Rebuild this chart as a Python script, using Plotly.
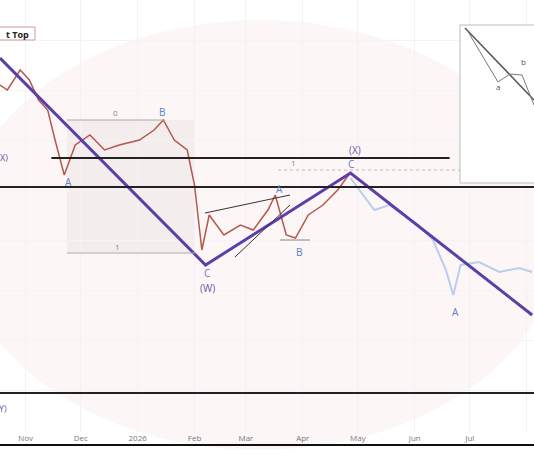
import plotly.graph_objects as go

W, H, MB = 534, 462, 30
PH = H - MB

hist_dates = ["2025-10-18","2025-10-22","2025-10-29","2025-11-03","2025-11-08","2025-11-13","2025-11-17","2025-11-22",
              "2025-11-28","2025-12-06","2025-12-14","2025-12-22","2026-01-02","2026-01-10","2026-01-15","2026-01-21",
              "2026-01-28","2026-02-01","2026-02-05","2026-02-09","2026-02-17","2026-02-26","2026-03-05","2026-03-13",
              "2026-03-17","2026-03-23","2026-03-28","2026-04-04","2026-04-12","2026-04-20","2026-04-26"]
hist_price = [121000,120000,124000,122000,118000,116000,110000,103000,
              109000,111000,108000,109000,110000,112000,114000,110000,
              108000,101000,88000,95000,91000,93000,92000,96000,
              99000,91000,90400,95000,97000,100000,103000]

proj_dates = ["2026-04-27","2026-05-04","2026-05-10","2026-05-18","2026-05-26","2026-06-03","2026-06-11","2026-06-18",
              "2026-06-22","2026-06-26","2026-07-06","2026-07-17","2026-07-28","2026-08-04"]
proj_price = [102400,99000,96000,97000,95000,93000,90000,84000,79000,85000,85600,83600,84400,83600]

wave_dates = ["2025-10-18","2026-02-07","2026-04-27","2026-08-04"]
wave_price = [126400,85000,103400,75000]

level_prices = [106400,100600,59400]
level_starts = ["2025-11-15","2025-10-18","2025-10-18"]
level_ends = ["2026-06-20","2026-08-05","2026-08-05"]

tick_vals = ["2025-11-01","2025-12-01","2026-01-01","2026-02-01","2026-03-01","2026-04-01","2026-05-01","2026-06-01","2026-07-01","2026-08-01"]
tick_text = ["Nov","Dec","2026","Feb","Mar","Apr","May","Jun","Jul","Aug"]

def px(x): return x / W
def py(y): return 1 - y / PH

fig = go.Figure()
fig.add_trace(go.Scatter(x=hist_dates, y=hist_price, mode="lines", line=dict(color="#b5574b", width=1.5), hoverinfo="skip"))
fig.add_trace(go.Scatter(x=proj_dates, y=proj_price, mode="lines", line=dict(color="#b9cdee", width=2), hoverinfo="skip"))
fig.add_trace(go.Scatter(x=wave_dates, y=wave_price, mode="lines", line=dict(color="#5b3fa8", width=3), hoverinfo="skip"))
for p, s, e in zip(level_prices, level_starts, level_ends):
    fig.add_trace(go.Scatter(x=[s, e], y=[p, p], mode="lines", line=dict(color="#222", width=2), hoverinfo="skip"))

shapes = [
    dict(type="circle", xref="paper", yref="paper", x0=px(-40), x1=px(560), y0=py(450), y1=py(20),
         fillcolor="rgba(250,230,230,0.35)", line=dict(width=0), layer="below"),
    dict(type="rect", xref="paper", yref="paper", x0=px(67), x1=px(195), y0=py(252), y1=py(120),
         fillcolor="rgba(200,200,200,0.18)", line=dict(width=0), layer="below"),
    dict(type="line", xref="paper", yref="paper", x0=px(67), x1=px(165), y0=py(120), y1=py(120), line=dict(color="#aaa", width=1)),
    dict(type="line", xref="paper", yref="paper", x0=px(67), x1=px(195), y0=py(253), y1=py(253), line=dict(color="#aaa", width=1)),
    dict(type="line", xref="paper", yref="paper", x0=px(205), x1=px(290), y0=py(213), y1=py(195), line=dict(color="#333", width=1)),
    dict(type="line", xref="paper", yref="paper", x0=px(235), x1=px(290), y0=py(257), y1=py(205), line=dict(color="#333", width=1)),
    dict(type="line", xref="paper", yref="paper", x0=px(280), x1=px(310), y0=py(240), y1=py(240), line=dict(color="#888", width=1)),
    dict(type="line", xref="paper", yref="paper", x0=px(278), x1=px(460), y0=py(170), y1=py(170), line=dict(color="#bbb", width=1, dash="dot")),
    dict(type="rect", xref="paper", yref="paper", x0=px(460), x1=px(536), y0=py(183), y1=py(25),
         fillcolor="white", line=dict(color="#bbb", width=1)),
    dict(type="line", xref="paper", yref="paper", x0=px(465), x1=px(534), y0=py(28), y1=py(100), line=dict(color="#555", width=1.5)),
    dict(type="path", xref="paper", yref="paper",
         path=f"M {px(467)} {py(30)} L {px(498)} {py(82)} L {px(510)} {py(74)} L {px(522)} {py(75)} L {px(534)} {py(105)}",
         line=dict(color="#777", width=1)),
    dict(type="rect", xref="paper", yref="paper", x0=px(-2), x1=px(35), y0=py(40), y1=py(27),
         fillcolor="white", line=dict(color="#c99", width=1)),
]

def ann(x, y, t, c="#5d7fc4", s=10):
    return dict(xref="paper", yref="paper", x=px(x), y=py(y), text=t, showarrow=False,
                xanchor="center", yanchor="middle", font=dict(color=c, size=s))

annotations = [
    ann(17, 34, "<b>t Top</b>", "#222", 9),
    ann(355, 150, "(X)", "#6a5aa8"), ann(351, 164, "C"),
    ann(68, 182, "A"), ann(162, 112, "B"), ann(207, 273, "C"), ann(207, 288, "(W)", "#6a5aa8"),
    ann(279, 189, "A"), ann(299, 252, "B"), ann(455, 312, "A"),
    ann(115, 112, "0", "#888", 8), ann(117, 246, "1", "#888", 8), ann(293, 162, "1", "#888", 8),
    ann(4, 157, "X)", "#6a5aa8", 9), ann(3, 408, "Y)", "#6a5aa8", 9),
    ann(498, 86, "a", "#555", 8), ann(523, 61, "b", "#555", 8),
]

fig.update_layout(
    width=W, height=H, autosize=False, margin=dict(l=0, r=0, t=0, b=MB),
    paper_bgcolor="white", plot_bgcolor="white", showlegend=False,
    shapes=shapes, annotations=annotations,
    xaxis=dict(range=["2025-10-18", "2026-08-05"], tickvals=tick_vals, ticktext=tick_text,
               tickfont=dict(size=8, color="#777"), showgrid=True, gridcolor="#f2f2f2",
               showline=False, zeroline=False),
    yaxis=dict(range=[51600, 138000], showticklabels=False, showgrid=True, gridcolor="#f4f4f4", zeroline=False),
)
fig.add_shape(type="line", xref="paper", yref="paper", x0=0, x1=1, y0=py(445), y1=py(445), line=dict(color="#111", width=2))
fig.write_html("out.html", config={"displayModeBar": False},
               post_script="document.body.style.margin='0';document.body.style.overflow='hidden';")
